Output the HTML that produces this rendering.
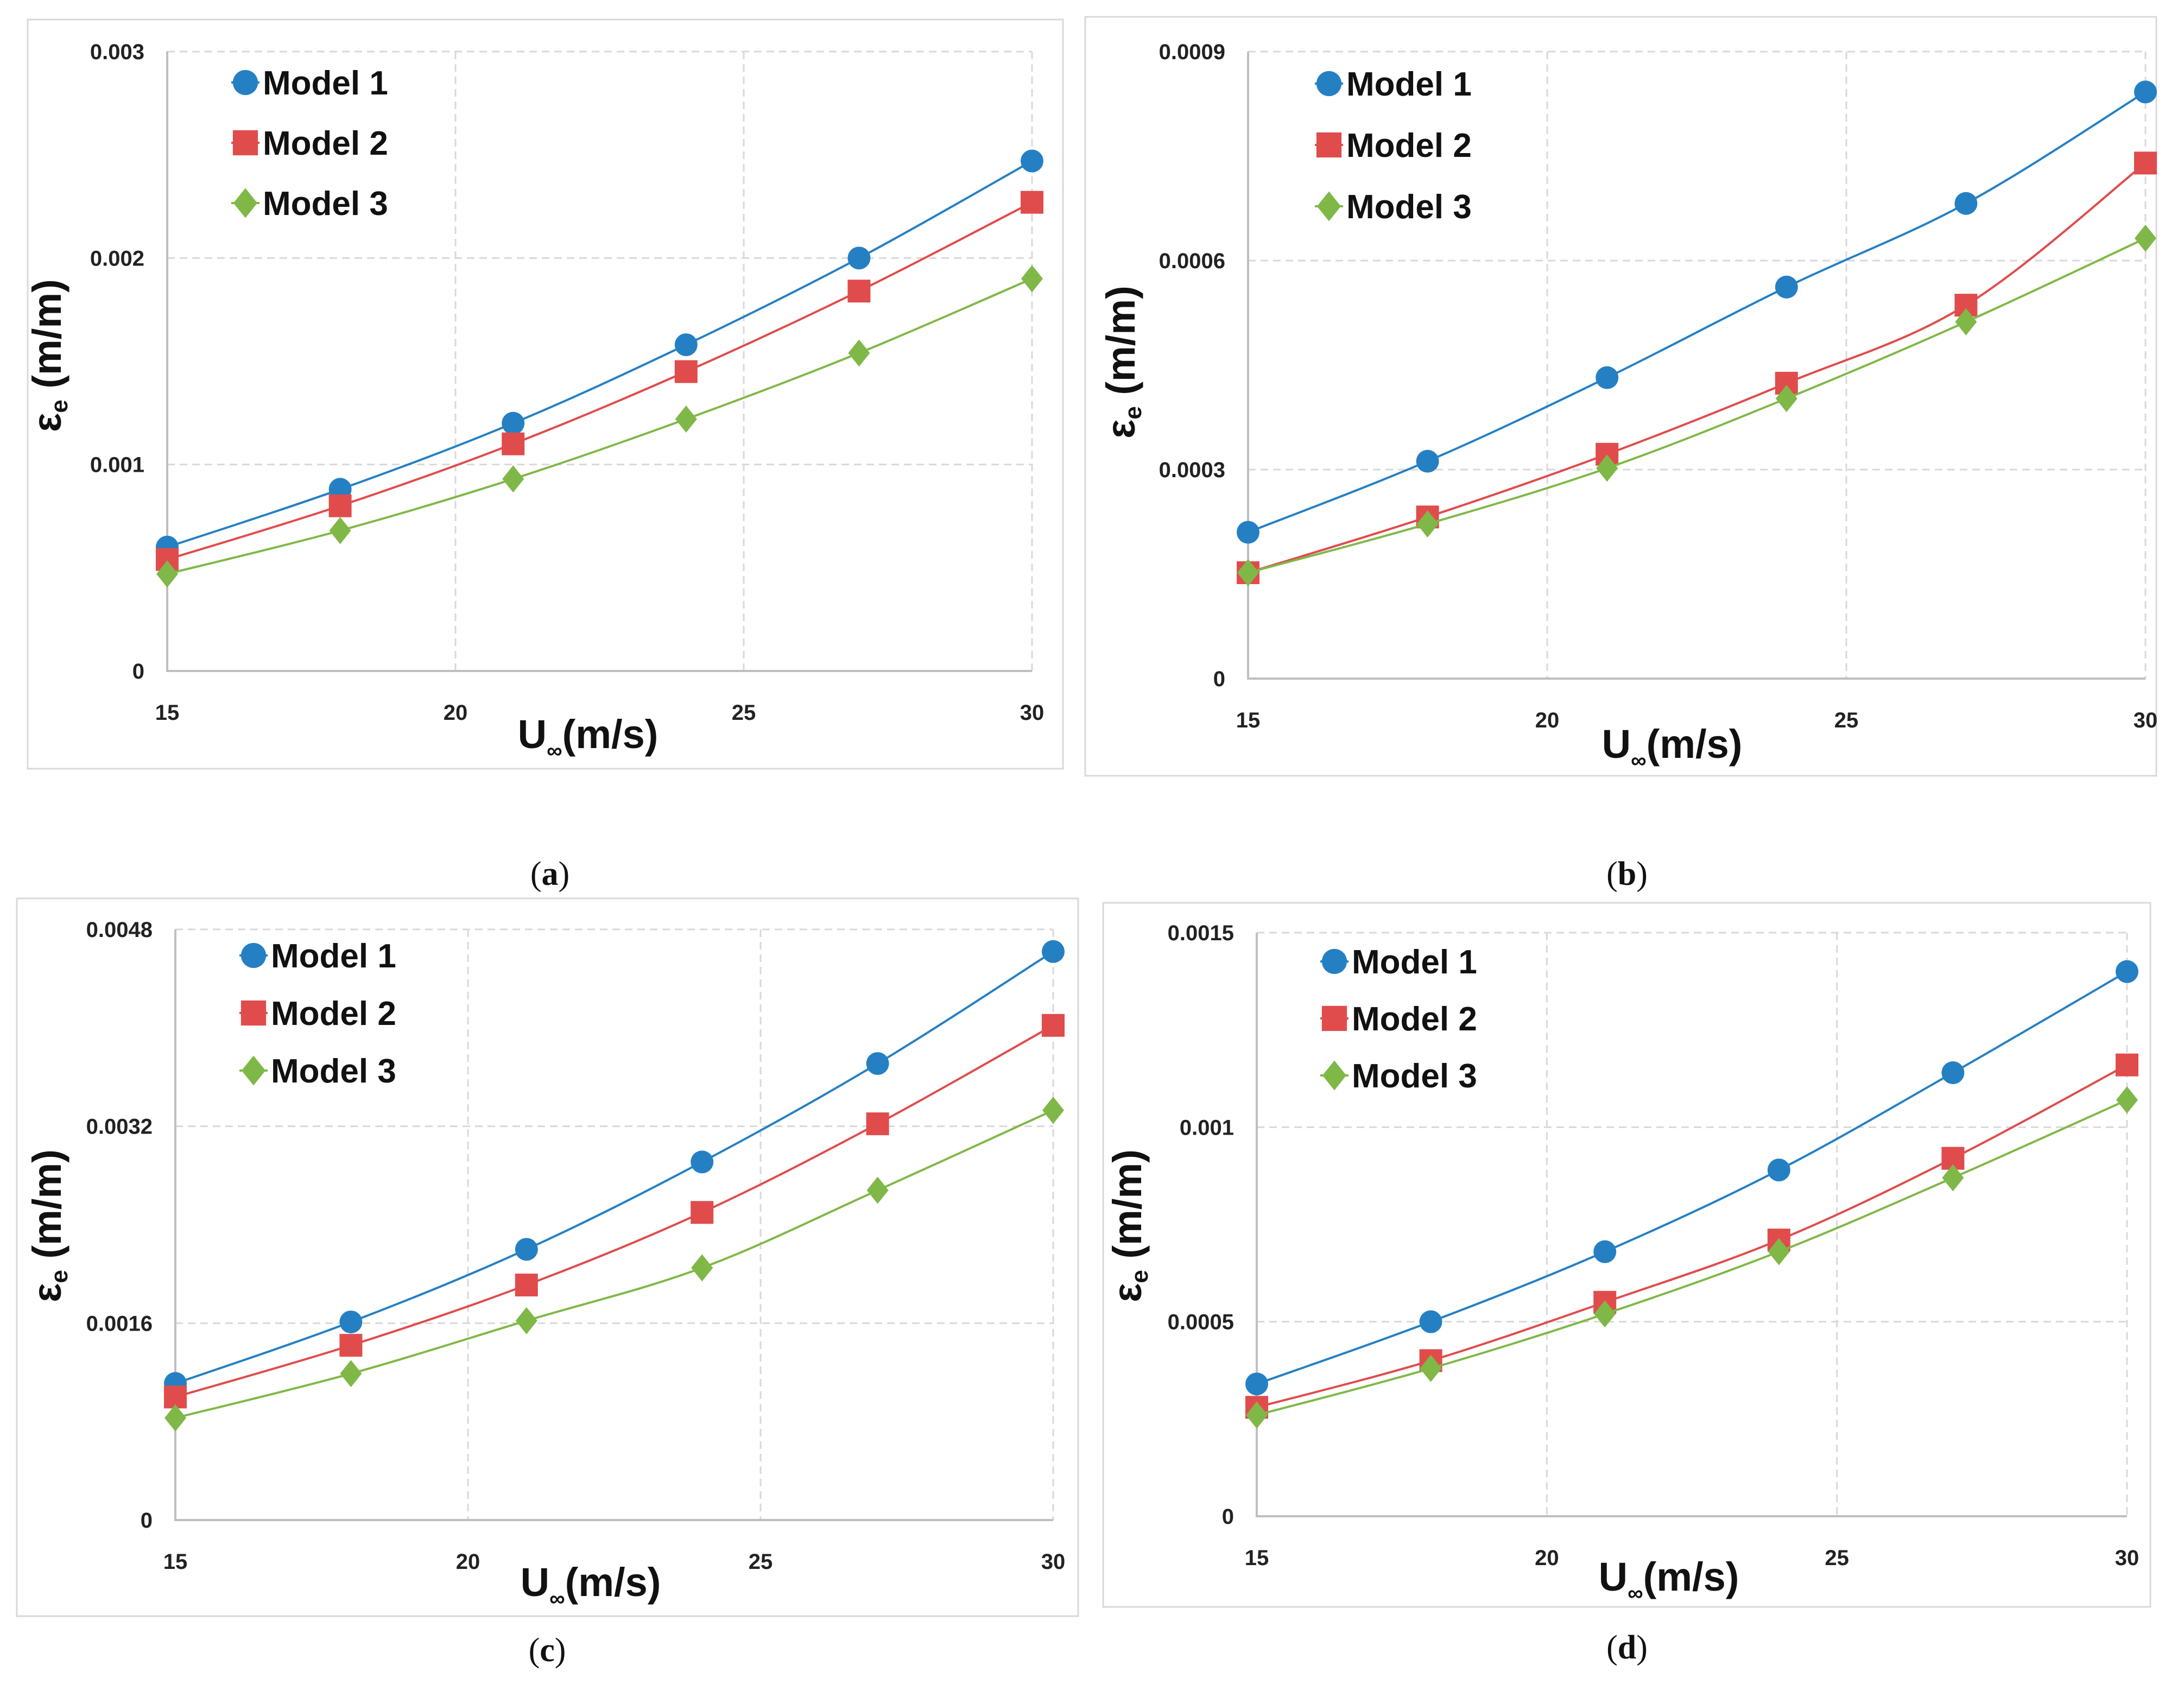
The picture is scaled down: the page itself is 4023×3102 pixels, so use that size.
<!DOCTYPE html>
<html><head><meta charset="utf-8"><style>
html,body{margin:0;padding:0;background:#fff;}
svg{display:block;}
text{font-family:"Liberation Sans",sans-serif;}
</style></head><body>
<svg id="fig" width="4023" height="3102" viewBox="0 0 4023 3102" xmlns="http://www.w3.org/2000/svg"></svg>
<script>
const xCats = [15, 18, 21, 24, 27, 30];
const xTicks = [15, 20, 25, 30];
const seriesNames = ["Model 1", "Model 2", "Model 3"];
const aM1 = [0.0006, 0.00088, 0.0012, 0.00158, 0.002, 0.00247];
const aM2 = [0.00054, 0.0008, 0.0011, 0.00145, 0.00184, 0.00227];
const aM3 = [0.00047, 0.00068, 0.00093, 0.00122, 0.00154, 0.0019];
const aTicks = ["0", "0.001", "0.002", "0.003"];
const bM1 = [0.00021, 0.000312, 0.000432, 0.000562, 0.000682, 0.000842];
const bM2 = [0.000152, 0.000232, 0.000322, 0.000424, 0.000536, 0.00074];
const bM3 = [0.000152, 0.000222, 0.000302, 0.000402, 0.000512, 0.000632];
const bTicks = ["0", "0.0003", "0.0006", "0.0009"];
const cM1 = [0.00111, 0.00161, 0.0022, 0.00291, 0.00371, 0.00462];
const cM2 = [0.001, 0.00142, 0.00191, 0.0025, 0.00322, 0.00402];
const cM3 = [0.00083, 0.00119, 0.00162, 0.00205, 0.00268, 0.00333];
const cTicks = ["0", "0.0016", "0.0032", "0.0048"];
const dM1 = [0.00034, 0.0005, 0.00068, 0.00089, 0.00114, 0.0014];
const dM2 = [0.00028, 0.0004, 0.00055, 0.00071, 0.00092, 0.00116];
const dM3 = [0.00026, 0.00038, 0.00052, 0.00068, 0.00087, 0.00107];
const dTicks = ["0", "0.0005", "0.001", "0.0015"];

const NS = "http://www.w3.org/2000/svg";
const svg = document.getElementById("fig");
const colors = ["#2580c3", "#e04c4c", "#80b848"];
function el(tag, attrs, parent) {
  const e = document.createElementNS(NS, tag);
  for (const k in attrs) e.setAttribute(k, attrs[k]);
  (parent || svg).appendChild(e);
  return e;
}
function marker(g, type, x, y, s, color) {
  let m;
  if (type === 0) m = el("circle", {cx: x, cy: y, r: 21 * s, fill: color}, g);
  else if (type === 1) m = el("rect", {x: x - 21 * s, y: y - 21 * s, width: 42 * s, height: 42 * s, fill: color}, g);
  else m = el("polygon", {points: `${x},${y - 25 * s} ${x + 20 * s},${y} ${x},${y + 25 * s} ${x - 20 * s},${y}`, fill: color}, g);
  return m;
}
function smoothPath(pts) {
  let d = `M${pts[0][0]},${pts[0][1]}`;
  for (let i = 0; i < pts.length - 1; i++) {
    const p0 = pts[Math.max(0, i - 1)], p1 = pts[i], p2 = pts[i + 1], p3 = pts[Math.min(pts.length - 1, i + 2)];
    const t = 0.17;
    d += ` C${p1[0] + (p2[0] - p0[0]) * t},${p1[1] + (p2[1] - p0[1]) * t} ${p2[0] - (p3[0] - p1[0]) * t},${p2[1] - (p3[1] - p1[1]) * t} ${p2[0]},${p2[1]}`;
  }
  return d;
}
function panel(P) {
  const g = el("g", {});
  
  
  const fr = el("rect", {x: P.fx0, y: P.fy0, width: P.fx1 - P.fx0, height: P.fy1 - P.fy0, fill: "#fff", stroke: "#d9d9d9", "stroke-width": 3}, g);
  
  
  const ymax = P.max;
  const X = v => P.x0 + (v - 15) / 15 * (P.x1 - P.x0);
  const Y = v => P.y0 - v / ymax * (P.y0 - P.y1);
  // gridlines
  P.ticks.forEach((t, i) => {
    const v = ymax * i / (P.ticks.length - 1);
    const yy = Y(v);
    if (i > 0) {
      const gl = el("line", {x1: P.x0, x2: P.x1, y1: yy, y2: yy, stroke: "#d9d9d9", "stroke-width": 3, "stroke-dasharray": "14,9"}, g);
      
      
    }
    const tl = el("text", {x: P.x0 - 42, y: yy + 14, "text-anchor": "end", "font-size": 40, "font-weight": "bold", fill: "#222"}, g);
    tl.textContent = t;
    
    
  });
  xTicks.forEach(t => {
    const xx = X(t);
    if (t > 15) {
      const gl = el("line", {x1: xx, x2: xx, y1: P.y1, y2: P.y0, stroke: "#d9d9d9", "stroke-width": 3, "stroke-dasharray": "14,9"}, g);
      
      
    }
    const tl = el("text", {x: xx, y: P.y0 + 90, "text-anchor": "middle", "font-size": 40, "font-weight": "bold", fill: "#222"}, g);
    tl.textContent = t;
    
    
  });
  const ax = el("path", {d: `M${P.x0},${P.y1} L${P.x0},${P.y0} L${P.x1},${P.y0}`, fill: "none", stroke: "#bfbfbf", "stroke-width": 4}, g);
  
  
  P.series.forEach((s, k) => {
    const pts = xCats.map((c, i) => [X(c), Y(s[i])]);
    const ln = el("path", {d: smoothPath(pts), fill: "none", stroke: colors[k], "stroke-width": 4}, g);
    
    
    pts.forEach(p => {
      const m = marker(g, k, p[0], p[1], 1, colors[k]);
      
      
    });
  });
  // legend
  seriesNames.forEach((n, k) => {
    const ly = P.ly + k * P.ldy;
    const ll = el("line", {x1: P.lx - 26, x2: P.lx + 26, y1: ly, y2: ly, stroke: colors[k], "stroke-width": 4}, g);
    
    
    const m = marker(g, k, P.lx, ly, 1.1, colors[k]);
    
    
    const t = el("text", {x: P.lx + 32, y: ly + 22, "font-size": 62, "font-weight": "bold", fill: "#111"}, g);
    t.textContent = n;
    
    
  });
  // axis titles
  const yt = el("text", {transform: `translate(${P.ytx},${P.yty}) rotate(-90)`, "text-anchor": "middle", "font-size": 74, "font-weight": "bold", fill: "#111"}, g);
  yt.innerHTML = 'ε<tspan font-size="44" dy="12">e</tspan><tspan dy="-12"> (m/m)</tspan>';
  
  
  const xt = el("text", {x: P.xtx, y: P.xty, "text-anchor": "middle", "font-size": 74, "font-weight": "bold", fill: "#111"}, g);
  xt.innerHTML = 'U<tspan font-size="40" dy="18">∞</tspan><tspan dy="-18">(m/s)</tspan>';
  
  
  const cap = el("text", {x: P.cx, y: P.cy, "text-anchor": "middle", "font-size": 62, fill: "#111", style: "font-family:'Liberation Serif',serif"}, g);
  cap.innerHTML = '(<tspan font-weight="bold">' + P.id + '</tspan>)';
  
  
}
panel({id: "a", fx0: 51, fy0: 36, fx1: 1958, fy1: 1416, x0: 308, x1: 1901, y0: 1236, y1: 95, max: 0.003, ticks: aTicks, series: [aM1, aM2, aM3], lx: 452, ly: 152, ldy: 111, ytx: 112, yty: 655, xtx: 1083, xty: 1378, cx: 1013, cy: 1630});
panel({id: "b", fx0: 1999, fy0: 31, fx1: 3972, fy1: 1429, x0: 2299, x1: 3952, y0: 1250, y1: 95, max: 0.0009, ticks: bTicks, series: [bM1, bM2, bM3], lx: 2448, ly: 154, ldy: 113, ytx: 2090, yty: 667, xtx: 3080, xty: 1396, cx: 2997, cy: 1630});
panel({id: "c", fx0: 31, fy0: 1655, fx1: 1986, fy1: 2977, x0: 323, x1: 1940, y0: 2800, y1: 1712, max: 0.0048, ticks: cTicks, series: [cM1, cM2, cM3], lx: 467, ly: 1760, ldy: 106, ytx: 112, yty: 2258, xtx: 1088, xty: 2940, cx: 1008, cy: 3060});
panel({id: "d", fx0: 2032, fy0: 1663, fx1: 3961, fy1: 2960, x0: 2315, x1: 3918, y0: 2793, y1: 1718, max: 0.0015, ticks: dTicks, series: [dM1, dM2, dM3], lx: 2458, ly: 1771, ldy: 105, ytx: 2102, yty: 2258, xtx: 3074, xty: 2930, cx: 2997, cy: 3055});
</script>
</body></html>
